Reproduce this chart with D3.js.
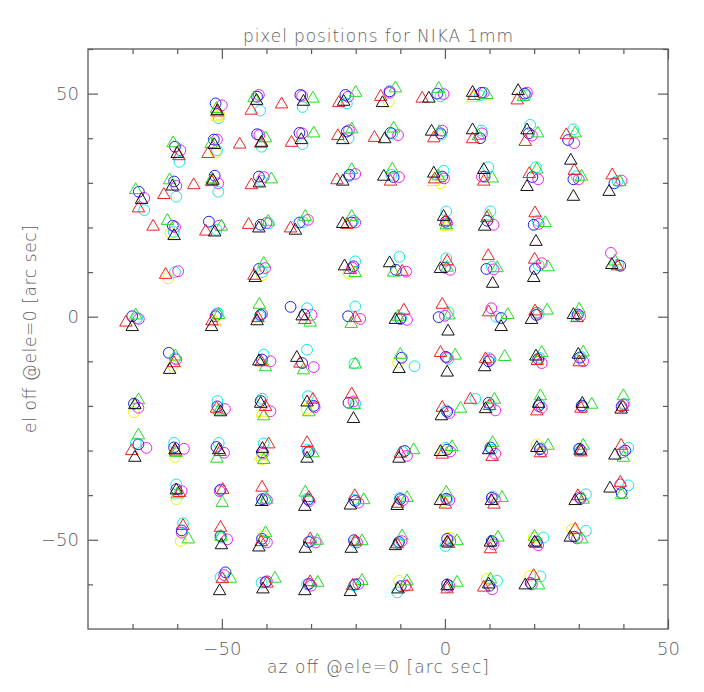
<!DOCTYPE html>
<html>
<head>
<meta charset="utf-8">
<script src="https://cdn.jsdelivr.net/npm/d3@7"></script>
<style>
  html, body { margin: 0; padding: 0; background: #fff; }
  svg { display: block; }
  text { font-family: "DejaVu Sans", sans-serif; fill: #606060; font-weight: 200; }
</style>
</head>
<body>
<svg id="chart" width="704" height="692"></svg>
<script>
// ---------------- data (az, el) in arc sec ----------------
const xTicks = [-70, -60, -50, -40, -30, -20, -10, 0, 10, 20, 30, 40, 50];
const yTicks = [-60, -50, -40, -30, -20, -10, 0, 10, 20, 30, 40, 50, 60];
const majorTicks = [-50, 0, 50];
const titleText = "pixel positions for NIKA 1mm";
const xLabel = "az off @ele=0 [arc sec]";
const yLabel = "el off @ele=0 [arc sec]";

const blackTri = [
 [-51,46.1],[-42.2,48.4],[-31.7,48.2],[-22.7,48.2],[-14,47.9],[-3.6,48.9],[6.2,50.2],[16.4,50.6],
 [-60,36.5],[-51.7,38.5],[-41.1,39],[-32.2,39.6],[-22.9,39.6],[-13.5,39.8],[-3,41.5],[6.2,41.8],[18.4,41.8],
 [-68,26.2],[-61.1,29.2],[-52,30.5],[-41.6,29.9],[-22.9,30.3],[-13.7,31.4],[-2.5,32.1],[8.7,32.9],[18.4,29.1],[28.2,35],[28.8,26.9],[36.8,28],
 [-60.7,18.1],[-51.6,18.9],[-41.7,19.8],[-33.5,19.3],[-22.9,20.8],[-0.3,22.4],[8.9,20.2],[20.4,16.8],
 [-42.5,8.7],[-22.5,11.3],[-12.4,12],[-1,10.7],[10.7,7.4],[19.9,8.7],[37.4,11.6],
 [-70.1,-2.3],[-52.3,-2.3],[-42.1,-1],[-32,0.1],[-11.1,-0.7],[0.7,-3.3],[12.6,-2.3],[19.4,-0.7],[28.8,0.4],
 [-61.7,-11.9],[-41.7,-10],[-33.2,-9.2],[-10.3,-11.7],[0.5,-12.5],[8.9,-11.3],[20.4,-8.9],[29.9,-8.5],
 [-69.5,-19.8],[-50.3,-21.4],[-41.3,-19.5],[-30.9,-19.2],[-20.5,-22.9],[-0.8,-22.3],[9.1,-20.7],[21,-19.5],[30.8,-19.5],[39.5,-20.8],
 [-69.5,-31.6],[-60.5,-29.9],[-50.7,-29.9],[-40.9,-29.6],[-30.9,-31.8],[-10.3,-31.8],[-1,-30.3],[9.8,-29.9],[20.6,-29.4],[30.3,-30],[38.1,-31.1],
 [-60.2,-38.9],[-41.1,-41.5],[-31.4,-42.6],[-21.2,-42.3],[-10.7,-42.4],[-1,-41.3],[10.4,-41.3],[29.2,-41.3],[37,-38.5],
 [-50.1,-51.2],[-41.7,-51.7],[-31.3,-52],[-21,-52],[-11.1,-51.4],[0.5,-50.6],[10.2,-50.6],[20.1,-50.6],[28.1,-49.5],
 [-50.5,-61.5],[-40.8,-61.1],[-31.4,-61.5],[-21.2,-61.7],[-10.5,-61.1],[0.5,-60.4],[9.8,-60],[18,-60.2]
];
const redTri = [
 [-51.1,45.8],[-43.4,46.2],[-36.6,47.6],[-23.8,47.9],[-14.4,49.3],[-5.1,48.9],[6.5,49.5],[16.2,48.5],
 [-59.6,36],[-53.1,36.5],[-46,38.6],[-41.3,38.8],[-34.4,39],[-24,40.5],[-15.8,40.1],[-2.5,40],[6.2,39.8],[18,39.2],[27.2,40.7],
 [-68.7,24.3],[-63,27.3],[-56.3,29.5],[-52.3,30.2],[-43.4,29.5],[-24.2,30.6],[-12.2,30.3],[-2.3,30.8],[8.7,30.3],[18.9,32],[29,32.7],[37.5,31.7],
 [-65.4,20.2],[-53.6,19.1],[-44,20.6],[-34.6,19.8],[-22,20.6],[0.1,21.3],[9.4,22.1],[20.2,23.2],
 [-62.6,9.4],[-42.8,9.2],[-21.2,10.5],[-9.6,10.1],[0.5,12.4],[9.7,13.6],[20.1,12.8],[38.7,11.3],
 [-71.5,-1.3],[-52.2,-1],[-41.9,-0.3],[-31.4,-0.7],[-20.1,-0.3],[-9.2,1.4],[-0.6,2.7],[9.8,1],[20.2,1.2],[29.6,-0.3],
 [-60.7,-10.4],[-41.2,-10.2],[-32.5,-10.5],[-1,-8.1],[9.1,-9.5],[20.7,-9.9],[30.1,-10.2],
 [-51.2,-20.6],[-40.2,-20.2],[-29.6,-18.6],[-20.9,-17.4],[-0.6,-20.4],[5.7,-18.6],[10,-20],[20.6,-21.2],[30.5,-20.6],[39.8,-20.2],
 [-70.2,-30.1],[-60.4,-30.2],[-50.4,-30.3],[-39.5,-28.6],[-30.9,-28.3],[-10,-30.7],[-0.6,-30.9],[10.6,-31.4],[21.4,-30.6],[30.5,-30.4],[39.5,-28.9],
 [-59.5,-39.5],[-49.8,-38.8],[-41,-38.3],[-30.5,-40.6],[-20.2,-40.2],[-10.6,-41.9],[0.1,-42.1],[11,-42.1],[29.8,-40.2],[39.3,-37.2],
 [-58.7,-46.9],[-50.3,-47.3],[-41.2,-50.5],[-30.2,-49.9],[-20.1,-50.4],[-10.7,-51],[0.8,-50.9],[10.2,-52.1],[20.4,-50.9],[29.2,-47.7],
 [-49.9,-58.8],[-39.9,-59.8],[-30.2,-59.5],[-20.7,-60.3],[-8.5,-60.5],[0.5,-61.1],[8.7,-60.7],[19.9,-58.1]
];
const greenTri = [
 [-51.2,46.6],[-42.8,49],[-29.6,48.9],[-20,50.2],[-11.1,51.2],[-1.4,51.1],[9.4,49.7],[17.6,49.3],
 [-60.9,38.9],[-52.4,38.7],[-40.2,40],[-29.4,41.1],[-20.9,42],[-11.5,42.2],[-1.3,41.4],[7.5,40.5],[20.8,41.1],[29.2,41.1],
 [-69.3,28.4],[-61.7,30.6],[-52.2,30.8],[-38.9,30.8],[-20.9,32.9],[-11.8,33],[-1.5,31.5],[10.6,31],[20.6,33],[30.6,31.4],[39.2,30.2],
 [-62.2,21.5],[-50.1,20.2],[-39.6,21.3],[-31.3,22.4],[-20.9,22.4],[0.3,20.5],[9.7,22.5],[22.5,21],
 [-40.6,11.9],[-20.1,9.8],[-11.5,9.9],[0.5,11],[11.7,10.9],[23.1,11.1],[38.1,12.4],
 [-69.3,0.3],[-50.7,0.4],[-41.6,2.7],[-30.2,-1.3],[-21,-1.6],[-10.5,0],[0.9,0.3],[14.1,0.4],[22.9,1.4],[30.1,1.6],
 [-60.4,-8.9],[-40.2,-11.3],[-31.7,-12],[-20.1,-10.7],[-10,-8.5],[2.3,-8.7],[13.4,-9],[21.7,-8.1],[31,-8],
 [-68.7,-18.7],[-50.6,-21],[-40.6,-22.3],[-30.5,-21.4],[-20.3,-19.8],[3.5,-20.6],[11.1,-18.6],[21.4,-17.8],[32.9,-19.7],[40,-17.8],
 [-68.7,-26.6],[-60.2,-30.5],[-51.1,-31.8],[-40.6,-32.1],[-29.6,-30.6],[-7,-29.9],[1.6,-29.2],[10.7,-28.3],[23.1,-28.9],[31,-28.9],[40,-31.6],
 [-60,-39.8],[-49.9,-41.7],[-40,-41],[-31.3,-39.4],[-18.2,-41.1],[-8.5,-40.6],[0.3,-39.4],[12.8,-40.6],[31,-41],[39.6,-39.9],
 [-57.5,-49.9],[-50.2,-49.3],[-40.2,-48.5],[-28.6,-50.2],[-18.6,-50.3],[-9.6,-49.2],[2.7,-50.3],[11.9,-49.5],[20.1,-49.3],[30.7,-49.9],
 [-48.1,-58.7],[-38.1,-58.7],[-28.5,-59.6],[-18.6,-59.2],[-8.5,-59.3],[2.7,-59.6],[10.2,-58.9],[21,-60.2]
];
const yellowTri = [
 [-51,44.7],[6.4,49],[-2.6,30.2],[0.3,20.2],[-41,-21.5],[-51.5,-1.2],[-41.3,-31.3],[-0.5,-29.9]
];
const blueCirc = [
 [-51.4,47.8],[-42.1,49.3],[-32.4,49.7],[-22.3,49.7],[-12.4,50.5],[-1.7,50],[8.2,50.2],[17.9,50],
 [-60.5,38.1],[-51.8,39.7],[-42.1,40.9],[-32.6,41.2],[-22,41.5],[-12.2,41.2],[-1,41.1],[7.9,40],[18.8,41.1],[27.6,39.6],
 [-68.6,28],[-60.7,30.3],[-51.6,31.6],[-41.7,31.4],[-21.4,31.8],[-11.5,31.3],[-0.6,31.4],[8.9,31.4],[19.6,31.3],[28.8,30.8],[38,29.9],
 [-61,20.4],[-52.9,21.3],[-41.3,20.6],[-32.6,21.1],[-20.9,21.1],[0.2,21.3],[9.5,21.5],[19.9,20.6],
 [-41.7,10.7],[-20.5,11.3],[-11,10.5],[0,11],[9.3,10.7],[20.2,10.7],[39.3,11.4],
 [-70.1,0.1],[-51.4,0.1],[-41.3,0.4],[-34.6,2.2],[-31.5,0.5],[-21.7,0.1],[-10,-0.5],[-1.4,-0.1],[12.6,-0.3],[20.5,0.4],[29.8,0.5],
 [-61.9,-8.1],[-41,-9.6],[-32,-10.4],[-9.7,-9.2],[0.2,-9],[9.8,-10],[20.9,-9.5],[30.2,-9.2],
 [-69.7,-19.5],[-51,-20.1],[-41.3,-18.9],[-29.4,-20],[-21.6,-19.3],[0.5,-21.3],[9.8,-19.3],[21,-20],[30.7,-19.9],[39.6,-20.1],
 [-68.7,-28.6],[-60.7,-29.3],[-51.2,-29.2],[-41,-30.4],[-30.6,-30.4],[-9,-30.1],[0.5,-29.8],[10.2,-29.3],[21.3,-29.7],[30.1,-29.6],[40.4,-30],
 [-60.2,-38.7],[-50.3,-38.8],[-41,-40.9],[-30.6,-41],[-20.1,-41.3],[-10,-40.9],[0.3,-40.8],[10.5,-40.6],[30.4,-40.8],[39.6,-39.5],
 [-59,-47.9],[-50.3,-49.2],[-41,-49.8],[-30.5,-50.5],[-20.4,-50.1],[-10.3,-50.5],[0.5,-49.8],[10.5,-50.3],[20.6,-50.4],[29,-49.3],
 [-49.2,-57.3],[-40.2,-59.5],[-30.5,-59.9],[-20.1,-60],[-9.9,-60.4],[0.5,-60],[10,-60.3],[19.2,-59.7]
];
const cyanCirc = [
 [-50.7,44.5],[-41.4,46.2],[-31.9,47],[-22,47.8],[-1,49.4],[7.8,49.6],[18.2,49.6],
 [-59.5,34.7],[-51.1,37.3],[-41.1,38.1],[-31.9,38.7],[-21.6,40],[-11.8,41],[-0.8,40.8],[8.2,41.7],[19.1,43],[28.8,42],
 [-67.4,23.9],[-60.2,26.9],[-50.8,28],[-41.2,30.5],[-21.5,31.5],[-12,31.8],[-0.3,32.7],[9.7,33.5],[20.4,33.5],[29.5,31.5],[38.7,30.4],
 [-60.8,19],[-51.2,19.5],[-39.5,20.9],[-31.8,21.2],[-20.5,21.5],[0.3,23.6],[10.2,23.6],[20.8,21.5],
 [-60.5,10],[-41,10],[-20.1,12.4],[-10.2,13.4],[0.3,13.1],[10.5,11.2],[21,11.5],[38.8,11.6],
 [-69,-0.3],[-50.9,0.8],[-41.5,0.2],[-30.9,1.9],[-20.1,2.3],[-9.8,-0.3],[0.8,1],[11.5,0],[21,0.6],[29.5,0.2],
 [-60.5,-9.3],[-40.6,-8.5],[-30.9,-7.4],[-20.3,-10.5],[-6.8,-11.1],[0.8,-9.5],[9.9,-9.3],[21.2,-9.2],[30.5,-9],
 [-51,-18.9],[-41,-18.4],[-30.7,-17.8],[-20.1,-19.5],[0.3,-21],[6.8,-18.4],[10.2,-19.8],[21.2,-19.6],[30.6,-20],[40.2,-19.5],
 [-69.3,-28.4],[-60.7,-28.3],[-50.7,-28.3],[-40.6,-28.4],[-30.8,-29.8],[-9.5,-30.3],[0.2,-29.4],[10.5,-29.8],[21.5,-29.5],[30.2,-29.7],[41.1,-29.4],
 [-60.2,-37.6],[-40.3,-40.7],[-30.9,-40.8],[-20.4,-41],[-10.1,-40.6],[0.5,-41],[10.7,-40.3],[31.6,-39.8],[41.1,-37.8],
 [-58.7,-46.3],[-50.1,-49.5],[-40.5,-50.2],[-30,-50.3],[-20.2,-50.5],[-10.5,-50.8],[0.1,-51.4],[10.7,-50.5],[22.1,-49.5],[31.6,-48],
 [-50.3,-58.4],[-41.1,-59.6],[-30.9,-60],[-20.4,-60.2],[-10.7,-61.8],[0.7,-60.6],[11.7,-59.2],[21.4,-58.2]
];
const magentaCirc = [
 [-50,47.4],[-41.7,49.7],[-32,49.5],[-21.7,49.3],[-12.4,50.2],[-0.3,49.9],[8.7,50.2],[18.4,50.2],
 [-59.3,37.3],[-51.1,39.7],[-41.6,40.7],[-32,41.1],[-21.5,41.8],[-10.5,40.7],[-0.6,41.7],[8.3,41.1],[19.5,40.6],[29,38.9],
 [-67.4,26.6],[-60.2,29.3],[-50.8,29.9],[-40.6,31.3],[-20.1,32],[-10.3,31.3],[-0.2,31],[8.3,31.4],[20.9,30.8],[30,30.8],[39.6,30.5],
 [-60.5,20.1],[-50.6,20.4],[-40,21],[-30.7,21.7],[-20.1,21.1],[0.5,20.9],[10.9,20.6],[21,20.8],
 [-59.8,10.2],[-40.3,10.9],[-20.8,11],[-8.7,10.1],[1.2,10.5],[10.9,10.6],[21.7,12],[37.2,14.3],
 [-68.6,-0.5],[-51.2,0.5],[-41,0.6],[-29.9,0.4],[-19,-0.5],[-8.5,-0.7],[0,0.2],[10.4,1.9],[20.6,0.9],[30.3,0.1],
 [-60.2,-9.6],[-39.1,-10],[-29.4,-11.3],[0.5,-9.2],[10.2,-9.6],[21.7,-10.4],[31,-10],
 [-68.7,-20.4],[-49.3,-20.7],[-39.1,-21.2],[-29.2,-20.3],[-20.5,-19],[1,-21.6],[11.3,-21],[21.7,-20.4],[30.9,-20.3],[40,-19.7],
 [-66.9,-29.4],[-58.5,-29.6],[-49.5,-30.5],[-40.8,-30.7],[-30.4,-30.1],[-8.5,-31.2],[1.2,-30.2],[11.3,-30.7],[21.8,-30.2],[30.5,-30],[39.8,-30.4],
 [-59,-39.1],[-50.5,-39.1],[-39.9,-41.1],[-30.4,-41.3],[-19.4,-41.7],[-9.4,-41.1],[1,-41.1],[11.2,-40.9],[30.3,-40.5],[39.3,-37.6],
 [-59,-48.4],[-48.8,-49.9],[-39.9,-50.6],[-29,-50.6],[-19.7,-50.6],[-9.7,-50.3],[1.2,-50.3],[10.9,-51],[20.9,-51.2],[29.6,-49.7],
 [-49.5,-57.9],[-39.9,-59.3],[-30,-60.3],[-19.4,-59.9],[-8.8,-60.3],[1,-60.3],[10.6,-61.1],[19.5,-60]
];
const yellowCirc = [
 [-50.6,45.3],[-12.6,48.2],[-51.3,36.8],[-1,29.9],[-61.5,18.7],[-62,8.6],[-41,9.3],[-21.6,9.8],
 [-61,-11],[-69.7,-21.4],[-31,-20.8],[-60.5,-31.4],[-41,-32],[-60.2,-40.9],[-59.2,-50.3],[-40.8,-49.2],
 [-10.3,-59.2],[9.4,-58.8],[19.1,-58.1],[19.9,-49.5],[28.5,-47.7],[20.6,-28.6],[-10.5,-10.3],[-0.5,-41.5],[1,-49.5]
];

// ---------------- layout ----------------
const svg = d3.select("#chart");
const x = d3.scaleLinear().domain([-80, 50]).range([88, 668]);
const y = d3.scaleLinear().domain([-70, 60]).range([629, 49]);
const frameColor = "#5a5a5a";
const textColor = "#606060";
const isMajor = d => majorTicks.includes(d);

// frame
svg.append("rect")
  .attr("x", x(-80)).attr("y", y(60))
  .attr("width", x(50) - x(-80)).attr("height", y(-70) - y(60))
  .attr("fill", "none").attr("stroke", frameColor).attr("stroke-width", 1.3);

// axes
function styleAxis(g) {
  g.select(".domain").remove();
  g.selectAll(".tick line").attr("stroke", frameColor).attr("stroke-width", 1.2);
  g.selectAll(".tick text").attr("fill", textColor).style("font-size", "18px")
    .style("font-family", "DejaVu Sans, sans-serif").style("font-weight", "200");
}
const fmt = d => isMajor(d) ? d3.format("d")(d) : "";

const gBottom = svg.append("g").attr("transform", `translate(0,${y(-70)})`)
  .call(d3.axisBottom(x).tickValues(xTicks).tickSize(0).tickPadding(13).tickFormat(fmt));
styleAxis(gBottom);
gBottom.selectAll(".tick line").attr("y2", d => isMajor(d) ? -10 : -5);

const gTop = svg.append("g").attr("transform", `translate(0,${y(60)})`)
  .call(d3.axisTop(x).tickValues(xTicks).tickSize(0).tickFormat(""));
styleAxis(gTop);
gTop.selectAll(".tick line").attr("y2", d => isMajor(d) ? 10 : 5);

const gLeft = svg.append("g").attr("transform", `translate(${x(-80)},0)`)
  .call(d3.axisLeft(y).tickValues(yTicks).tickSize(0).tickPadding(9).tickFormat(fmt));
styleAxis(gLeft);
gLeft.selectAll(".tick line").attr("x2", d => isMajor(d) ? 10 : 5);

const gRight = svg.append("g").attr("transform", `translate(${x(50)},0)`)
  .call(d3.axisRight(y).tickValues(yTicks).tickSize(0).tickFormat(""));
styleAxis(gRight);
gRight.selectAll(".tick line").attr("x2", d => isMajor(d) ? -10 : -5);

// titles
svg.append("text").attr("x", 378).attr("y", 42).attr("text-anchor", "middle")
  .style("font-size", "17px").attr("textLength", 270).attr("lengthAdjust", "spacing")
  .text(titleText);
svg.append("text").attr("x", 378).attr("y", 673).attr("text-anchor", "middle")
  .style("font-size", "17px").attr("textLength", 222).attr("lengthAdjust", "spacing")
  .text(xLabel);
svg.append("text").attr("transform", `translate(36,329) rotate(-90)`).attr("text-anchor", "middle")
  .style("font-size", "17px").attr("textLength", 208).attr("lengthAdjust", "spacing")
  .text(yLabel);

// markers
const plot = svg.append("g");
const triSide = 12.5, triH = triSide * Math.sqrt(3) / 2;
const triPath = `M0,${-2 * triH / 3}L${triSide / 2},${triH / 3}L${-triSide / 2},${triH / 3}Z`;
const circR = 5.4;

function drawCircles(data, color) {
  plot.append("g").selectAll("circle").data(data).join("circle")
    .attr("cx", d => x(d[0])).attr("cy", d => y(d[1])).attr("r", circR)
    .attr("fill", "none").attr("stroke", color).attr("stroke-width", 1);
}
function drawTriangles(data, color) {
  plot.append("g").selectAll("path").data(data).join("path")
    .attr("d", triPath)
    .attr("transform", d => `translate(${x(d[0])},${y(d[1])})`)
    .attr("fill", "none").attr("stroke", color).attr("stroke-width", 1);
}

drawCircles(yellowCirc, "#f2f200");
drawCircles(cyanCirc, "#11e8e8");
drawCircles(magentaCirc, "#ee22ee");
drawCircles(blueCirc, "#2020ee");
drawTriangles(yellowTri, "#f2f200");
drawTriangles(greenTri, "#22dd22");
drawTriangles(redTri, "#ee2222");
drawTriangles(blackTri, "#111111");
</script>
</body>
</html>
